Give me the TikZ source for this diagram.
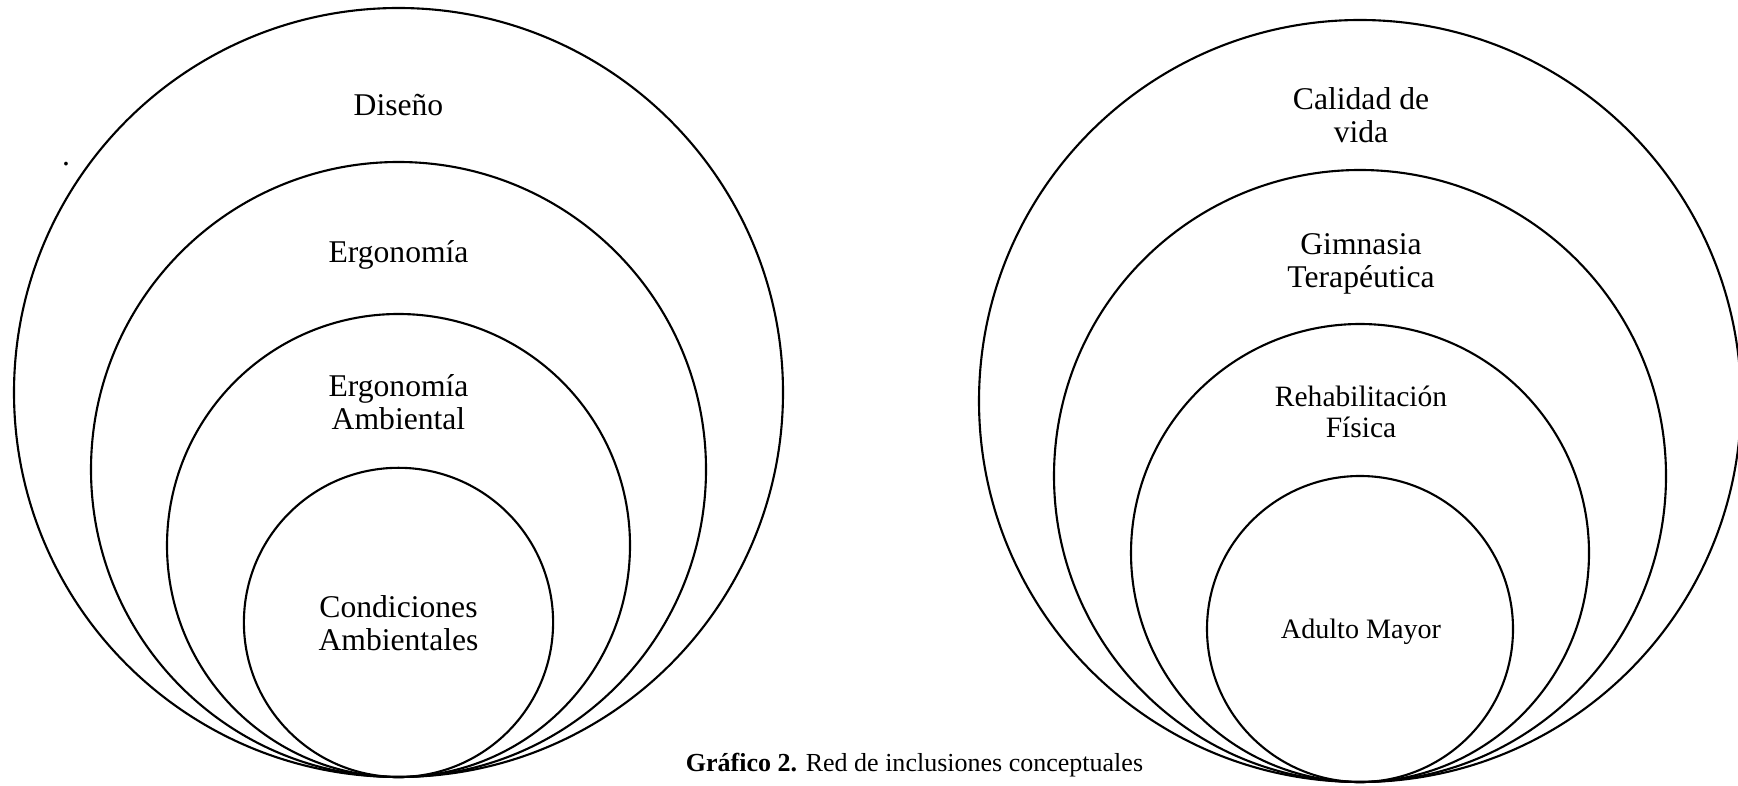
\documentclass[tikz,border=0pt]{standalone}
\usepackage{fontspec}
\setmainfont{Liberation Serif}
\usepackage{tikz}
\usetikzlibrary{positioning}

\begin{document}
\begin{tikzpicture}[
    ring/.style={draw, black, line width=0.6pt},
    lbl/.style={align=center, font=\fontsize{9}{9.4}\selectfont, inner sep=0pt}
]
    \useasboundingbox (0,0) rectangle (17.38,7.85);

    % Define centres (all circles touch at the bottom)
    \coordinate (D) at (3.985, 3.925);
    \coordinate (E) at (3.985, 3.155);
    \coordinate (EA) at (3.985, 2.395);
    \coordinate (CA) at (3.985, 1.626);
    \coordinate (CV) at (13.60, 3.84);
    \coordinate (GT) at (13.60, 3.09);
    \coordinate (RF) at (13.60, 2.32);
    \coordinate (AM) at (13.60, 1.56);

    % Draw left set of circles
    \draw[ring] (D) circle (3.845);
    \draw[ring] (E) circle (3.075);
    \draw[ring] (EA) circle (2.315);
    \draw[ring] (CA) circle (1.546);

    % Draw right set of circles
    \draw[ring] (CV) circle (3.81);
    \draw[ring] (GT) circle (3.06);
    \draw[ring] (RF) circle (2.29);
    \draw[ring] (AM) circle (1.53);

    % Labels
    \node[lbl] (diseno) at (3.985, 6.80) {Diseño};
    \node[lbl] (ergo) at (3.985, 5.30) {Ergonomía};
    \node[lbl] (ergoamb) at (3.985, 3.825) {Ergonomía\\Ambiental};
    \node[lbl] (condamb) at (3.985, 1.62) {Condiciones\\Ambientales};

    \node[lbl] (calidad) at (13.61, 6.70) {Calidad de\\vida};
    \node[lbl] (gimnasia) at (13.61, 5.215) {Gimnasia\\Terapéutica};
    \node[lbl, font=\fontsize{8.4}{8.8}\selectfont] (rehab) at (13.61, 3.735) {Rehabilitación\\Física};
    \node[lbl, font=\fontsize{8}{8.4}\selectfont] (adulto) at (13.61, 1.53) {Adulto Mayor};

    % Caption and stray dot
    \node[lbl, font=\fontsize{7.4}{8}\selectfont] (caption) at (9.145, 0.20) {\textbf{Gráfico 2.} Red de inclusiones conceptuales};
    \node[lbl] (dot) at (0.66, 6.21) {.};
\end{tikzpicture}
\end{document}
